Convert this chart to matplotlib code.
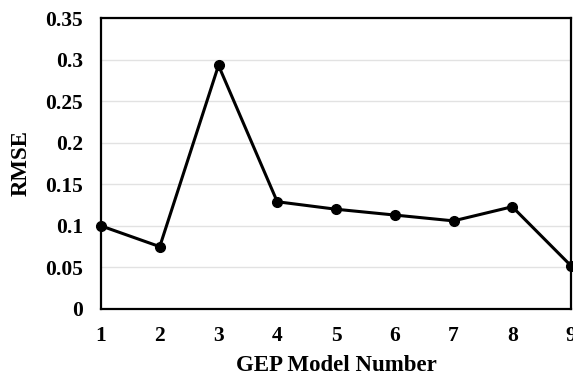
import matplotlib
matplotlib.use("Agg")
import matplotlib.pyplot as plt

# data
models = [1, 2, 3, 4, 5, 6, 7, 8, 9]
rmse = [0.100, 0.075, 0.293, 0.129, 0.120, 0.113, 0.106, 0.123, 0.052]
yticks = [0, 0.05, 0.1, 0.15, 0.2, 0.25, 0.3, 0.35]
ytick_labels = ["0", "0.05", "0.1", "0.15", "0.2", "0.25", "0.3", "0.35"]

plt.rcParams['font.family'] = ['Liberation Serif', 'DejaVu Serif']
plt.rcParams['font.weight'] = 'bold'

fig = plt.figure(figsize=(5.73, 3.82), dpi=100)
ax = fig.add_axes([101 / 573, 1 - 309 / 382, 470 / 573, 291 / 382])

ax.plot(models, rmse, color='black', linewidth=2.2, marker='o',
        markersize=7, clip_on=False, zorder=3)

ax.set_xlim(1, 9)
ax.set_ylim(0, 0.35)
ax.set_xticks(models)
ax.set_yticks(yticks)
ax.set_yticklabels(ytick_labels)
ax.tick_params(axis='y', length=0, labelsize=15.5, pad=13)
ax.tick_params(axis='x', length=0, labelsize=15.5, pad=12)
ax.grid(axis='y', color='#e2e2e2', linewidth=1)
ax.set_axisbelow(True)
for s in ax.spines.values():
    s.set_linewidth(1.6)
    s.set_color('black')

ax.set_xlabel("GEP Model Number", fontsize=16.5, fontweight='bold', labelpad=7)
ax.set_ylabel("RMSE", fontsize=16.5, fontweight='bold', labelpad=10)

fig.savefig("out.png", dpi=100)
